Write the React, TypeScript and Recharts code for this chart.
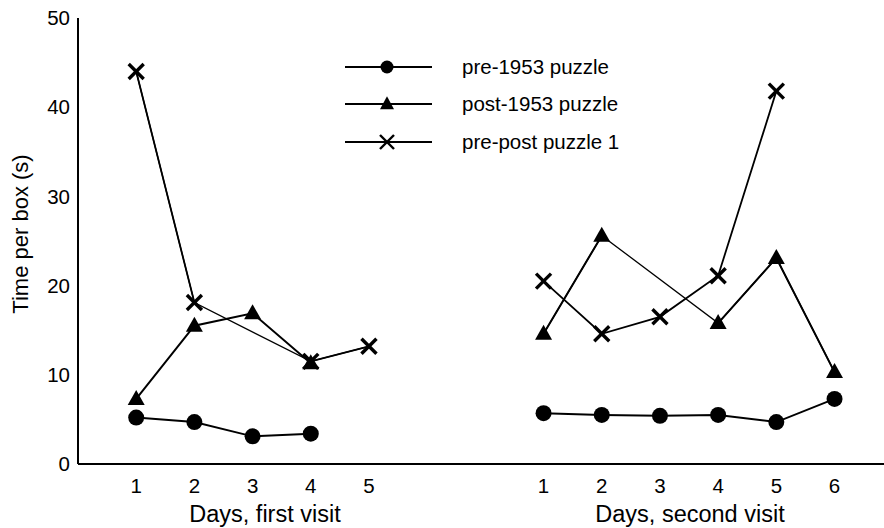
import React from 'react';
import { LineChart, Line, XAxis, YAxis } from 'recharts';

// day positions: first visit days sit at 1..5, second visit days at 8..13
const firstDays = [1, 2, 3, 4, 5];
const secondDays = [1, 2, 3, 4, 5, 6];
const secondOffset = 7;

const pre1953First = [5.2, 4.7, 3.1, 3.4, null];
const pre1953Second = [5.7, 5.5, 5.4, 5.5, 4.7, 7.3];
const post1953First = [7.3, 15.5, 16.9, 11.3, null];
const post1953Second = [14.6, 25.6, null, 15.8, 23.1, 10.3];
const prePostFirst = [44.0, 18.1, null, 11.5, 13.2];
const prePostSecond = [20.5, 14.6, 16.5, 21.1, 41.8, null];

const yTicks = [0, 10, 20, 30, 40, 50];
const xTicks = [...firstDays, ...secondDays.map((d) => d + secondOffset)];

const legendItems = [
  { name: 'pre-1953 puzzle', shape: 'circle' },
  { name: 'post-1953 puzzle', shape: 'triangle' },
  { name: 'pre-post puzzle 1', shape: 'cross' },
];

const FONT = '"Liberation Sans", Arial, sans-serif';

const toRows = (days: number[], vals: (number | null)[], offset: number) =>
  days.map((d, i) => ({ x: d + offset, y: vals[i] }));

const firstPre = toRows(firstDays, pre1953First, 0);
const secondPre = toRows(secondDays, pre1953Second, secondOffset);
const firstPost = toRows(firstDays, post1953First, 0);
const secondPost = toRows(secondDays, post1953Second, secondOffset);
const firstPP = toRows(firstDays, prePostFirst, 0);
const secondPP = toRows(secondDays, prePostSecond, secondOffset);

const Marker = ({ shape, cx, cy, big }: { shape: string; cx: number; cy: number; big: boolean }) => {
  if (shape === 'circle') return <circle cx={cx} cy={cy} r={big ? 8 : 6.5} fill="#000" />;
  if (shape === 'triangle') {
    const w = big ? 8.5 : 7;
    const h = big ? 15 : 13;
    return (
      <polygon
        points={`${cx},${cy - h * 0.6} ${cx + w},${cy + h * 0.4} ${cx - w},${cy + h * 0.4}`}
        fill="#000"
      />
    );
  }
  const s = big ? 7.5 : 7;
  return (
    <g stroke="#000" strokeWidth={big ? 3.4 : 2.4}>
      <line x1={cx - s} y1={cy - s} x2={cx + s} y2={cy + s} />
      <line x1={cx - s} y1={cy + s} x2={cx + s} y2={cy - s} />
    </g>
  );
};

const dotFor = (shape: string) => (props: any) => {
  const { cx, cy, value, index } = props;
  if (value == null || cx == null || cy == null) return <g key={`e-${shape}-${index}`} />;
  return (
    <g key={`d-${shape}-${index}-${cx}`}>
      <Marker shape={shape} cx={cx} cy={cy} big />
    </g>
  );
};

const LegendBox = () => (
  <div style={{ position: 'absolute', left: 345, top: 48, fontSize: 20.5, color: '#000' }}>
    {legendItems.map((it) => (
      <div key={it.name} style={{ display: 'flex', alignItems: 'center', height: 37.5 }}>
        <svg width={117} height={30}>
          <line x1={0} y1={15} x2={87} y2={15} stroke="#000" strokeWidth={2} />
          <Marker shape={it.shape} cx={42} cy={15} big={false} />
        </svg>
        <span style={{ lineHeight: 1 }}>{it.name}</span>
      </div>
    ))}
  </div>
);

export default function App() {
  const lineProps = { type: 'linear' as const, dataKey: 'y', stroke: '#000', isAnimationActive: false };
  const titleStyle: React.CSSProperties = {
    position: 'absolute',
    top: 503,
    transform: 'translateX(-50%)',
    fontSize: 23.5,
    whiteSpace: 'nowrap',
    lineHeight: 1,
  };
  return (
    <div style={{ position: 'absolute', left: 0, top: 0, width: 884, height: 528, background: '#fff', fontFamily: FONT }}>
      <LineChart width={884} height={528} margin={{ top: 18, right: 0, bottom: 0, left: 0 }}>
        <XAxis
          type="number"
          dataKey="x"
          domain={[0, 13.85]}
          ticks={xTicks}
          tickFormatter={(v: number) => String(v > 5 ? v - secondOffset : v)}
          allowDataOverflow
          tickLine={false}
          tickSize={0}
          tickMargin={14}
          height={64}
          axisLine={{ stroke: '#000', strokeWidth: 2 }}
          tick={{ fill: '#000', fontSize: 20.5, fontFamily: FONT }}
        />
        <YAxis
          type="number"
          domain={[0, 50]}
          ticks={yTicks}
          width={78}
          tickLine={false}
          tickSize={0}
          tickMargin={8}
          axisLine={{ stroke: '#000', strokeWidth: 2 }}
          tick={{ fill: '#000', fontSize: 20.5, fontFamily: FONT }}
        />
        {/* thin connectors across missing days */}
        <Line {...lineProps} data={firstPP} connectNulls strokeWidth={1.3} dot={false} />
        <Line {...lineProps} data={secondPost} connectNulls strokeWidth={1.3} dot={false} />

        <Line {...lineProps} data={firstPre} strokeWidth={2} dot={dotFor('circle')} />
        <Line {...lineProps} data={secondPre} strokeWidth={2} dot={dotFor('circle')} />
        <Line {...lineProps} data={firstPost} strokeWidth={2} dot={dotFor('triangle')} />
        <Line {...lineProps} data={secondPost} strokeWidth={2} dot={dotFor('triangle')} />
        <Line {...lineProps} data={firstPP} strokeWidth={1.8} dot={dotFor('cross')} />
        <Line {...lineProps} data={secondPP} strokeWidth={1.8} dot={dotFor('cross')} />
      </LineChart>
      <LegendBox />
      <div style={{ ...titleStyle, left: 265 }}>Days, first visit</div>
      <div style={{ ...titleStyle, left: 690 }}>Days, second visit</div>
      <div
        style={{
          position: 'absolute',
          left: 21,
          top: 234,
          transform: 'translate(-50%, -50%) rotate(-90deg)',
          fontSize: 22,
          whiteSpace: 'nowrap',
          lineHeight: 1,
        }}
      >
        Time per box (s)
      </div>
    </div>
  );
}
